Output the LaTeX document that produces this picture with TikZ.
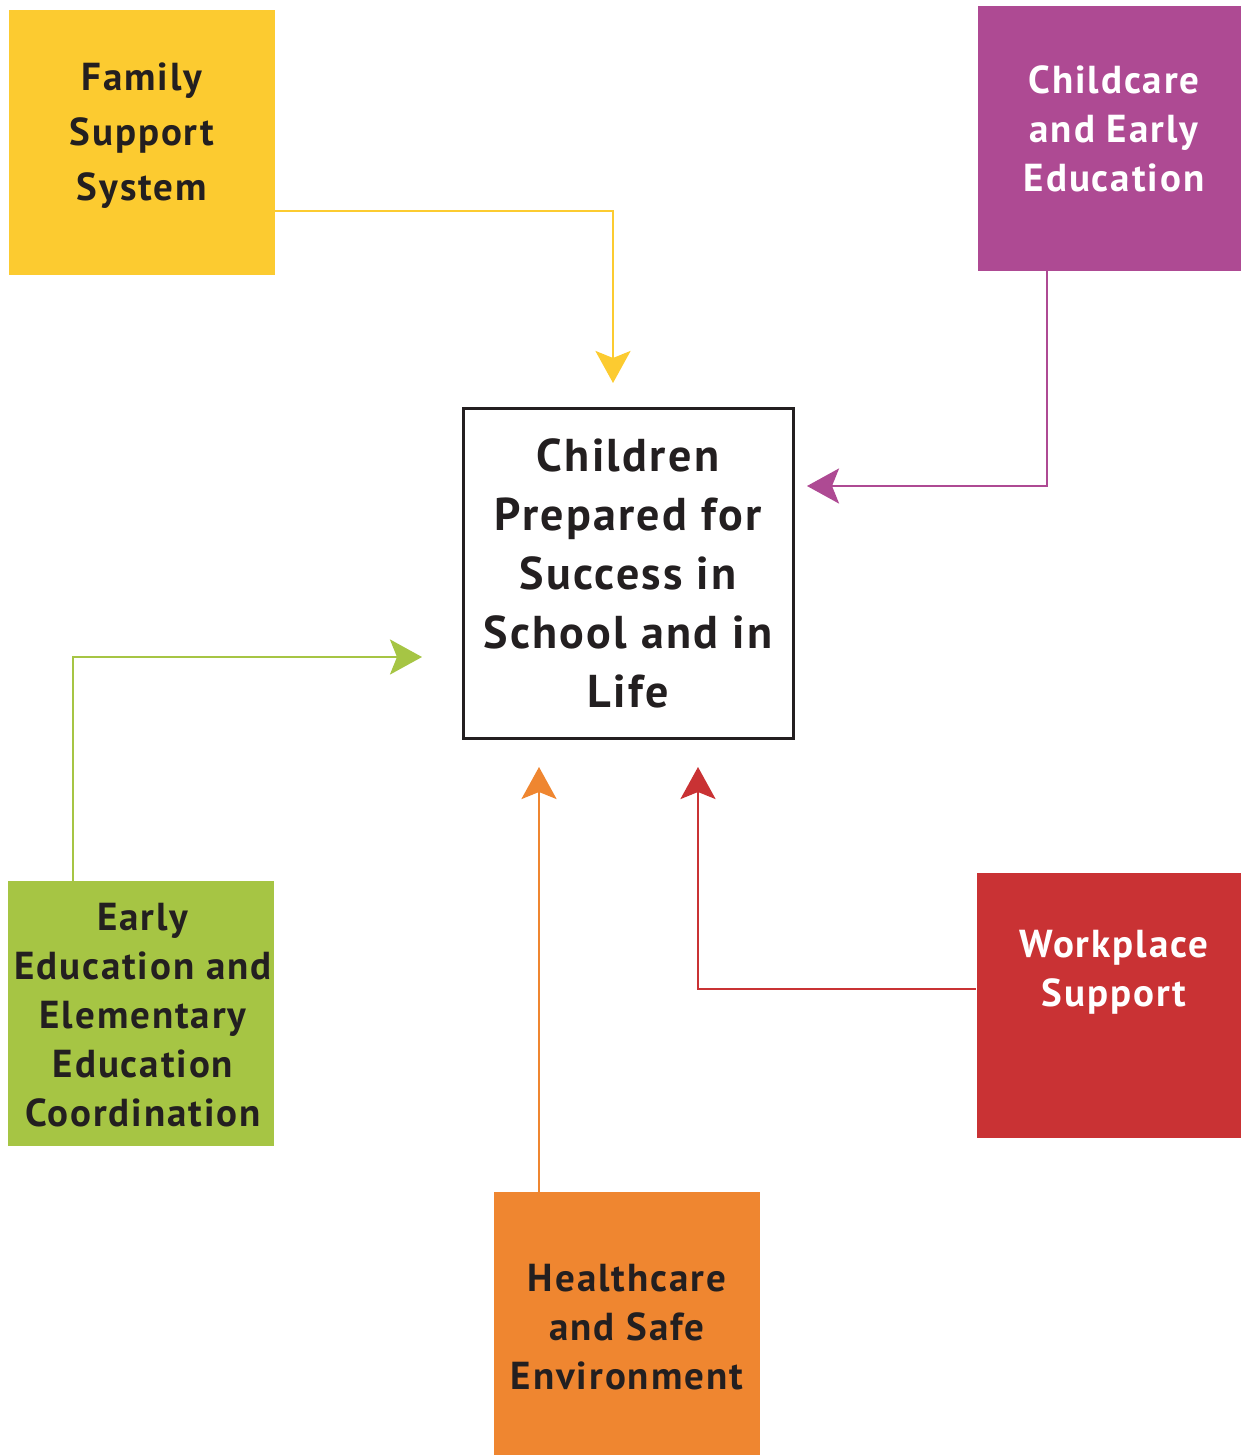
\documentclass[tikz,border=0pt]{standalone}
\usepackage{fontspec}
\setmainfont{PT Sans}
\newfontfamily\spacedfont[LetterSpace=5]{PT Sans}
\usetikzlibrary{arrows.meta}

\definecolor{famyellow}{HTML}{FCCB30}
\definecolor{carepurple}{HTML}{AE4A93}
\definecolor{schoolgreen}{HTML}{A6C544}
\definecolor{healthorange}{HTML}{EF8630}
\definecolor{workred}{HTML}{C93234}
\definecolor{inkdark}{HTML}{231F20}

\tikzset{
  factor/.style={rectangle, minimum width=133pt, minimum height=132.5pt,
    inner sep=0pt},
  factortext/.style={align=center, text=inkdark, inner sep=0pt,
    font=\spacedfont\bfseries\fontsize{19.5}{24.5}\selectfont},
  goalbox/.style={rectangle, draw=inkdark, line width=1.5pt, fill=white,
    minimum size=165pt, inner sep=0pt, align=center, text=inkdark,
    font=\spacedfont\bfseries\fontsize{23}{29.5}\selectfont},
  link/.style={line width=1.4pt, -{Stealth[length=16pt, width=17.5pt, inset=3.5pt]}},
}

\begin{document}
\begin{tikzpicture}[x=0.5pt, y=-0.5pt]
\useasboundingbox (0,0) rectangle (1241,1455);

% Goal in the middle
\node[goalbox] (goal) at (628,573)
  {Children\\Prepared for\\Success in\\School and in\\Life};

% Factors round it
\node[factor, fill=famyellow] (family) at (142,142.5) {};
\node[factor, fill=carepurple] (care) at (1110.5,138.5) {};
\node[factor, fill=schoolgreen] (school) at (141,1013.5) {};
\node[factor, fill=healthorange] (health) at (627,1324.5) {};
\node[factor, fill=workred] (work) at (1109.5,1005.5) {};

% Their texts
\node[factortext, font=\spacedfont\bfseries\fontsize{19.5}{27.5}\selectfont]
  (familytext) at (142,136) {Family\\Support\\System};
\node[factortext, text=white] (caretext) at (1114,128.5)
  {Childcare\\and Early\\Education};
\node[factortext] (schooltext) at (143,1015)
  {Early\\Education and\\Elementary\\Education\\Coordination};
\node[factortext] (healthtext) at (627,1327.5)
  {Healthcare\\and Safe\\Environment};
\node[factortext, text=white] (worktext) at (1114,972.5) {Workplace\\Support};

% Arrow tips stop short of the goal
\coordinate (famtip) at (613,383);
\coordinate (caretip) at (807,486);
\coordinate (schooltip) at (422,657);
\coordinate (healthtip) at (539,767);
\coordinate (worktip) at (698,767);

% Connectors
\draw[link, famyellow] (family.east |- 0,211) -| (famtip);
\draw[link, carepurple] (care.south -| 1047,0) |- (caretip);
\draw[link, schoolgreen] (school.north -| 73,0) |- (schooltip);
\draw[link, healthorange] (health.north -| healthtip) -- (healthtip);
\draw[link, workred] (work.west |- 0,989) -| (worktip);
\end{tikzpicture}
\end{document}
